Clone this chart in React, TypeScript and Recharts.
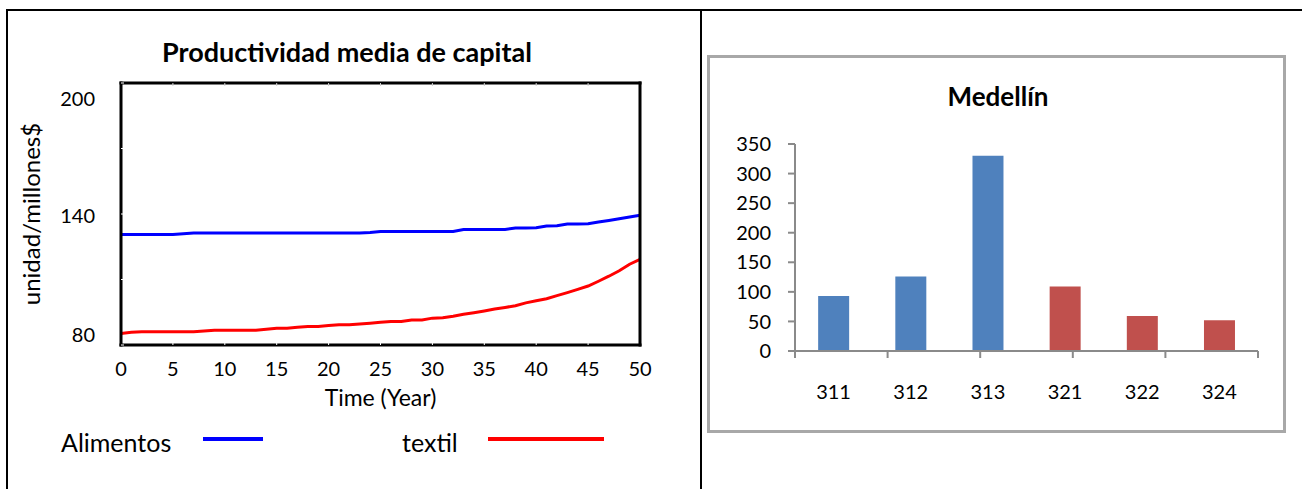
import React from "react";
import {
  LineChart,
  Line,
  BarChart,
  Bar,
  Cell,
  XAxis,
  YAxis,
  Legend,
  Label,
} from "recharts";

const FONT = "Lato, 'Open Sans', sans-serif";

// left chart: Productividad media de capital
const years = [
  0, 1, 2, 3, 4, 5, 6, 7, 8, 9, 10, 11, 12, 13, 14, 15, 16, 17, 18, 19, 20,
  21, 22, 23, 24, 25, 26, 27, 28, 29, 30, 31, 32, 33, 34, 35, 36, 37, 38, 39,
  40, 41, 42, 43, 44, 45, 46, 47, 48, 49, 50,
];
const alimentos = [
  130.6, 130.6, 130.6, 130.6, 130.6, 130.6, 130.9, 131.3, 131.3, 131.3, 131.3,
  131.3, 131.3, 131.3, 131.3, 131.3, 131.3, 131.3, 131.3, 131.3, 131.3, 131.3,
  131.3, 131.3, 131.5, 132.0, 132.0, 132.0, 132.0, 132.0, 132.0, 132.0, 132.0,
  132.9, 132.9, 132.9, 132.9, 132.9, 133.6, 133.6, 133.7, 134.5, 134.6, 135.4,
  135.4, 135.5, 136.3, 137.0, 137.8, 138.6, 139.4,
];
const textil = [
  85.3, 85.8, 86.1, 86.1, 86.1, 86.1, 86.1, 86.1, 86.4, 86.8, 86.8, 86.8, 86.8,
  86.8, 87.2, 87.7, 87.7, 88.1, 88.5, 88.5, 88.9, 89.3, 89.3, 89.6, 90.0, 90.4,
  90.8, 90.8, 91.5, 91.5, 92.3, 92.5, 93.2, 94.1, 94.8, 95.6, 96.5, 97.2, 98.0,
  99.3, 100.3, 101.2, 102.6, 104.0, 105.5, 107.0, 109.2, 111.5, 114.0, 117.0,
  119.2,
];
const yearTicks = [0, 5, 10, 15, 20, 25, 30, 35, 40, 45, 50];
const capitalTicks = [80, 110, 140, 170, 200];
const capitalLabels = [80, 140, 200];

// right chart: Medellín
const industryCodes = ["311", "312", "313", "321", "322", "324"];
const medellinValues = [93, 126, 330, 109, 59, 52];
const medellinTicks = [0, 50, 100, 150, 200, 250, 300, 350];

const lineData = years.map((year, i) => ({
  year,
  alimentos: alimentos[i],
  textil: textil[i],
}));

const barData = industryCodes.map((code, i) => ({
  code,
  value: medellinValues[i],
}));

const boundTicks = [...industryCodes.map((_, i) => i), industryCodes.length];

const boxLine = { stroke: "#000", strokeWidth: 3, strokeLinecap: "square" as const };
const greyLine = { stroke: "#8a8a8a", strokeWidth: 2 };

// keeps the tick line but draws no label
const EmptyTick = () => <g />;

function CapitalTick(props: any) {
  const { x, y, payload } = props;
  const v = payload.value;
  if (!capitalLabels.includes(v)) return <g />;
  // vensim pulls the end labels inside the box
  const shift = v === 200 ? 15 : v === 80 ? -11 : 1;
  return (
    <text
      x={x}
      y={y + shift}
      textAnchor="end"
      dominantBaseline="central"
      fill="#000"
      fontSize={20}
      fontFamily={FONT}
    >
      {v}
    </text>
  );
}

const legendSlots = [
  { text: 61, line: 203, width: 60 },
  { text: 402, line: 488, width: 116 },
];

function renderLegend(props: any) {
  const payload = props.payload || [];
  return (
    <div style={{ position: "relative", width: 700, height: 36, fontFamily: FONT, fontSize: 25 }}>
      {payload.map((entry: any, i: number) => {
        const slot = legendSlots[i];
        return (
          <React.Fragment key={entry.value}>
            <span
              style={{
                position: "absolute",
                left: slot.text,
                top: 0,
                lineHeight: "36px",
                color: "#000",
                whiteSpace: "nowrap",
              }}
            >
              {entry.value}
            </span>
            <span
              style={{
                position: "absolute",
                left: slot.line,
                top: 13,
                width: slot.width,
                height: 4,
                background: entry.color,
              }}
            />
          </React.Fragment>
        );
      })}
    </div>
  );
}

export default function App() {
  return (
    <div
      style={{
        position: "absolute",
        left: 0,
        top: 0,
        width: 1302,
        height: 489,
        background: "#fff",
        overflow: "hidden",
        fontFamily: FONT,
      }}
    >
      {/* table borders */}
      <div style={{ position: "absolute", left: 6, top: 9, width: 1400, height: 600, borderTop: "2px solid #000", borderLeft: "2px solid #000" }} />
      <div style={{ position: "absolute", left: 700, top: 9, width: 2, height: 600, background: "#000" }} />

      {/* Productividad media de capital */}
      <div
        style={{
          position: "absolute",
          left: 147,
          top: 36,
          width: 400,
          textAlign: "center",
          fontSize: 27,
          lineHeight: "32px",
          fontWeight: 700,
          color: "#000",
        }}
      >
        Productividad media de capital
      </div>
      <LineChart
        width={700}
        height={489}
        data={lineData}
        margin={{ top: 82, right: 59, bottom: 84, left: 61 }}
        style={{ position: "absolute", left: 0, top: 0 }}
      >
        <XAxis
          xAxisId="top"
          orientation="top"
          type="number"
          dataKey="year"
          domain={[0, 50]}
          ticks={yearTicks}
          interval={0}
          height={1}
          tick={EmptyTick}
          tickSize={-3}
          tickLine={{ stroke: "#cfcfcf" }}
          axisLine={boxLine}
        />
        <XAxis
          type="number"
          dataKey="year"
          domain={[0, 50]}
          ticks={yearTicks}
          interval={0}
          height={60}
          tickSize={-3}
          tickMargin={20}
          tickLine={{ stroke: "#fff" }}
          axisLine={boxLine}
          tick={{ fill: "#000", fontSize: 20, fontFamily: FONT }}
        >
          <Label
            value="Time (Year)"
            position="center"
            dy={23}
            fill="#000"
            fontSize={23}
            fontFamily={FONT}
          />
        </XAxis>
        <YAxis
          type="number"
          domain={[80, 200]}
          ticks={capitalTicks}
          interval={0}
          width={60}
          tickSize={-3}
          tickMargin={29}
          tickLine={{ stroke: "#fff" }}
          axisLine={boxLine}
          tick={<CapitalTick />}
        >
          <Label
            value="unidad/millones$"
            position="center"
            angle={-90}
            dx={-60}
            fill="#000"
            fontSize={24}
            fontFamily={FONT}
          />
        </YAxis>
        <YAxis
          yAxisId="right"
          orientation="right"
          type="number"
          domain={[80, 200]}
          ticks={capitalTicks}
          interval={0}
          width={1}
          tick={EmptyTick}
          tickSize={-3}
          tickLine={{ stroke: "#cfcfcf" }}
          axisLine={boxLine}
        />
        <Line
          type="linear"
          dataKey="alimentos"
          name="Alimentos"
          stroke="#0000ff"
          strokeWidth={3}
          dot={false}
          isAnimationActive={false}
        />
        <Line
          type="linear"
          dataKey="textil"
          name="textil"
          stroke="#ff0000"
          strokeWidth={3}
          dot={false}
          isAnimationActive={false}
        />
        <Legend
          layout="vertical"
          verticalAlign="middle"
          align="center"
          content={renderLegend}
          wrapperStyle={{ position: "absolute", left: 0, top: 424, width: 700, height: 36 }}
        />
      </LineChart>

      {/* Medellín */}
      <div
        style={{
          position: "absolute",
          left: 707,
          top: 55,
          width: 579,
          height: 378,
          boxSizing: "border-box",
          border: "3px solid #a8a8a8",
        }}
      />
      <div
        style={{
          position: "absolute",
          left: 848,
          top: 80,
          width: 300,
          textAlign: "center",
          fontSize: 26,
          lineHeight: "32px",
          fontWeight: 700,
          color: "#000",
        }}
      >
        Medellín
      </div>
      <BarChart
        width={602}
        height={489}
        data={barData}
        margin={{ top: 144, right: 44, bottom: 77, left: 0 }}
        barCategoryGap="30%"
        style={{ position: "absolute", left: 700, top: 0 }}
      >
        <XAxis
          xAxisId="a_bounds"
          type="number"
          domain={[0, industryCodes.length]}
          ticks={boundTicks}
          interval={0}
          height={1}
          tick={EmptyTick}
          tickSize={7}
          tickLine={greyLine}
          axisLine={greyLine}
        />
        <XAxis
          xAxisId="b_cat"
          dataKey="code"
          height={60}
          axisLine={false}
          tickLine={false}
          tickSize={7}
          tickMargin={26}
          interval={0}
          tick={{ fill: "#000", fontSize: 20, fontFamily: FONT }}
        />
        <YAxis
          type="number"
          domain={[0, 350]}
          ticks={medellinTicks}
          interval={0}
          width={95}
          tickSize={7}
          tickMargin={17}
          tickLine={greyLine}
          axisLine={greyLine}
          tick={{ fill: "#000", fontSize: 20, fontFamily: FONT }}
        />
        <Bar dataKey="value" xAxisId="b_cat" isAnimationActive={false}>
          {barData.map((d) => (
            <Cell key={d.code} fill={d.code.startsWith("31") ? "#4f81bd" : "#c0504d"} />
          ))}
        </Bar>
      </BarChart>
    </div>
  );
}
